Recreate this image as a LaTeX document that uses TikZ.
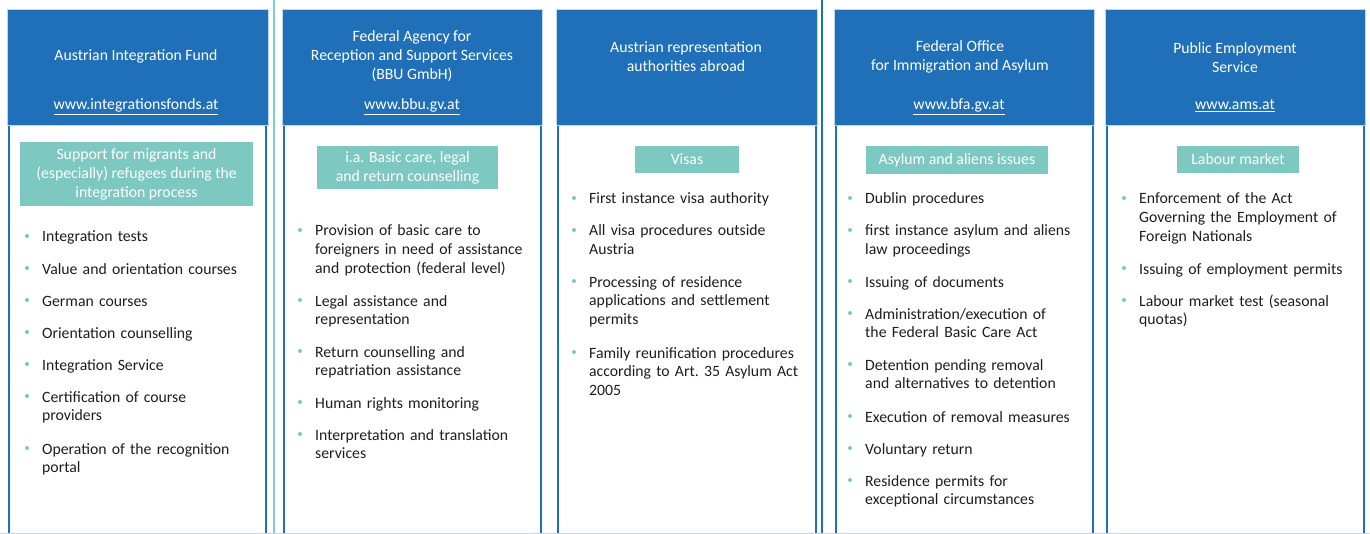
\documentclass[tikz,border=0pt]{standalone}
\usepackage{fontspec}
\setmainfont{Carlito}
\definecolor{hdr}{HTML}{1F70B8}
\definecolor{tealbox}{HTML}{7DC9C1}
\definecolor{sepline}{HTML}{7FD0CC}
\definecolor{outl}{HTML}{BDD7EE}
\definecolor{txt}{HTML}{1E1E1E}
\definecolor{bottomline}{HTML}{CCD3E6}
\newcommand\myfont{\fontsize{15.8}{19}\selectfont}
\newcommand\mybul[1]{\fill[tealbox] ([xshift=-15bp,yshift=6bp]#1.base west) circle (2bp);}
\tikzset{
  hdrbox/.style={fill=hdr, draw=outl, line width=0.8bp, inner sep=0pt, anchor=north west},
  bodybox/.style={draw=hdr, fill=white, line width=2.2bp, inner sep=0pt, anchor=north west},
  titletext/.style={text=white, align=center, font=\myfont, inner sep=0pt},
  urltext/.style={text=white, font=\myfont, inner sep=0pt, anchor=base},
  tagbox/.style={fill=tealbox, text=white, align=center, font=\myfont, inner sep=0pt},
  itemtext/.style={anchor=base west, text=txt, font=\myfont, inner sep=0pt, text width=235bp, align=left},
}
\begin{document}
\begin{tikzpicture}[x=1bp, y=-1bp]
\useasboundingbox (0,0) rectangle (1370,534);
\fill[white] (0,0) rectangle (1370,534);
% separators
\draw[sepline, line width=2bp] (274,0) -- (274,534);
\draw[hdr, line width=1.5bp] (822,0) -- (822,534);

% bodies
\node[bodybox, minimum width=257bp, minimum height=420bp] (b1) at (8,124) {};
\node[bodybox, minimum width=257bp, minimum height=420bp] (b2) at (283,124) {};
\node[bodybox, minimum width=258bp, minimum height=420bp] (b3) at (557,124) {};
\node[bodybox, minimum width=257bp, minimum height=420bp] (b4) at (835,124) {};
\node[bodybox, minimum width=257bp, minimum height=420bp] (b5) at (1106,124) {};

% headers
\node[hdrbox, minimum width=261bp, minimum height=116bp] (h1) at (7,9) {};
\node[hdrbox, minimum width=260bp, minimum height=116bp] (h2) at (282,9) {};
\node[hdrbox, minimum width=261bp, minimum height=116bp] (h3) at (556,9) {};
\node[hdrbox, minimum width=260bp, minimum height=116bp] (h4) at (834,9) {};
\node[hdrbox, minimum width=260bp, minimum height=116bp] (h5) at (1105,9) {};

% header titles
\node[titletext] (t1) at (136,56.5) {Austrian Integration Fund};
\node[titletext] (t2) at (412,56.5) {Federal Agency for\\Reception and Support Services\\(BBU GmbH)};
\node[titletext] (t3) at (686,56.5) {Austrian representation\\authorities abroad};
\node[titletext] (t4) at (960,56.5) {Federal Office\\for Immigration and Asylum};
\node[titletext] (t5) at (1235,57.5) {Public Employment\\Service};

% urls
\node[urltext] (u1) at (136,110) {\underline{www.integrationsfonds.at}};
\node[urltext] (u2) at (412,110) {\underline{www.bbu.gv.at}};
\node[urltext] (u4) at (959,110) {\underline{www.bfa.gv.at}};
\node[urltext] (u5) at (1235,110) {\underline{www.ams.at}};

% tag boxes
\node[tagbox, minimum width=233bp, minimum height=64bp] (g1) at (136.5,174) {Support for migrants and\\(especially) refugees during the\\integration process};
\node[tagbox, minimum width=181bp, minimum height=43bp] (g2) at (407.5,167.5) {i.a. Basic care, legal\\and return counselling};
\node[tagbox, minimum width=104bp, minimum height=27bp] (g3) at (687,159.5) {Visas};
\node[tagbox, minimum width=182bp, minimum height=28bp] (g4) at (957,160.5) {Asylum and aliens issues};
\node[tagbox, minimum width=122bp, minimum height=27bp] (g5) at (1238,159.5) {Labour market};

% column 1 items
\node[itemtext] (a1) at (42,242) {Integration tests};
\node[itemtext] (a2) at (42,274) {Value and orientation courses};
\node[itemtext] (a3) at (42,306) {German courses};
\node[itemtext] (a4) at (42,338) {Orientation counselling};
\node[itemtext] (a5) at (42,370) {Integration Service};
\node[itemtext] (a6) at (42,402) {Certification of course\\providers};
\node[itemtext] (a7) at (42,454) {Operation of the recognition\\portal};
\mybul{a1}\mybul{a2}\mybul{a3}\mybul{a4}\mybul{a5}\mybul{a6}\mybul{a7}

% column 2 items
\node[itemtext] (c1) at (315,236) {Provision of basic care to\\foreigners in need of assistance\\and protection (federal level)};
\node[itemtext] (c2) at (315,306) {Legal assistance and\\representation};
\node[itemtext] (c3) at (315,357) {Return counselling and\\repatriation assistance};
\node[itemtext] (c4) at (315,408) {Human rights monitoring};
\node[itemtext] (c5) at (315,440) {Interpretation and translation\\services};
\mybul{c1}\mybul{c2}\mybul{c3}\mybul{c4}\mybul{c5}

% column 3 items
\node[itemtext] (d1) at (589,204) {First instance visa authority};
\node[itemtext] (d2) at (589,236) {All visa procedures outside\\Austria};
\node[itemtext] (d3) at (589,287) {Processing of residence\\applications and settlement\\permits};
\node[itemtext] (d4) at (589,358) {Family reunification procedures\\according to Art.\ 35 Asylum Act\\2005};
\mybul{d1}\mybul{d2}\mybul{d3}\mybul{d4}

% column 4 items
\node[itemtext] (e1) at (865,204) {Dublin procedures};
\node[itemtext] (e2) at (865,236) {first instance asylum and aliens\\law proceedings};
\node[itemtext] (e3) at (865,287) {Issuing of documents};
\node[itemtext] (e4) at (865,319) {Administration/execution of\\the Federal Basic Care Act};
\node[itemtext] (e5) at (865,370) {Detention pending removal\\and alternatives to detention};
\node[itemtext] (e6) at (865,422) {Execution of removal measures};
\node[itemtext] (e7) at (865,454) {Voluntary return};
\node[itemtext] (e8) at (865,486) {Residence permits for\\exceptional circumstances};
\mybul{e1}\mybul{e2}\mybul{e3}\mybul{e4}\mybul{e5}\mybul{e6}\mybul{e7}\mybul{e8}

% column 5 items
\node[itemtext] (f1) at (1139,204) {Enforcement of the Act\\Governing the Employment of\\Foreign Nationals};
\node[itemtext] (f2) at (1139,274) {Issuing of employment permits};
\node[itemtext] (f3) at (1139,306) {Labour market test (seasonal\\quotas)};
\mybul{f1}\mybul{f2}\mybul{f3}

% bottom line
\draw[bottomline, line width=1bp] (0,533.5) -- (1370,533.5);
\end{tikzpicture}
\end{document}
